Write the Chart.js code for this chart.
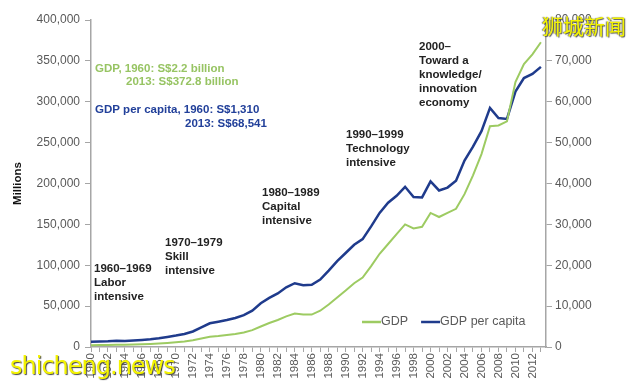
<!DOCTYPE html>
<html>
<head>
<meta charset="utf-8">
<script src="https://cdn.jsdelivr.net/npm/chart.js@4.4.1/dist/chart.umd.min.js"></script>
<style>
  html, body { margin: 0; padding: 0; background: #fff; }
  #wrap { position: relative; width: 640px; height: 384px; }
  .wm { position: absolute; color: #f4f400; white-space: nowrap; }
  #wm-cn { left: 542px; top: 10px; font: 21px "Noto Sans CJK SC", sans-serif; text-shadow: 1px 1px 1px #555, -1px 0 1px #777; }
  #wm-en { left: 10px; top: 352px; font: 24px "DejaVu Sans", sans-serif; letter-spacing: -1px; text-shadow: 1px 1px 1px #444; }
</style>
</head>
<body>
<div id="wrap">
  <canvas id="chart" width="640" height="384"></canvas>
  <div class="wm" id="wm-cn">狮城新闻</div>
  <div class="wm" id="wm-en">shicheng.news</div>
</div>
<script>
const years = [];
for (let y = 1960; y <= 2013; y++) years.push(y);

// GDP, S$ millions
const gdp = [
  2200, 2330, 2520, 2800, 2720, 2960, 3330, 3750, 4320, 5020,
  5800, 6800, 8160, 10400, 12500, 13400, 14600, 15900, 17700, 20600,
  25100, 29400, 33000, 37500, 41000, 39800, 39700, 44400, 52000, 60500,
  69000, 78000, 85000, 99000, 114000, 126000, 138000, 150000, 145000, 147000,
  164000, 159000, 164000, 169000, 187000, 210000, 236000, 270000, 271000, 276000,
  324000, 346000, 358000, 372800
];

// GDP per capita, S$
const gdpPerCapita = [
  1310, 1370, 1420, 1540, 1470, 1580, 1720, 1900, 2140, 2450,
  2800, 3200, 3800, 4800, 5800, 6200, 6600, 7100, 7800, 8900,
  10700, 12000, 13100, 14600, 15600, 15100, 15200, 16500, 18700, 21000,
  23000, 25000, 26400, 29500, 32800, 35300, 37000, 39200, 36700, 36600,
  40500, 38300, 39000, 40700, 45600, 49000, 52800, 58500, 56000, 55800,
  62500, 65800, 66800, 68541
];

const leftTicks = [0, 50000, 100000, 150000, 200000, 250000, 300000, 350000, 400000];
const rightTicks = [0, 10000, 20000, 30000, 40000, 50000, 60000, 70000, 80000];

const GREEN = '#9dcb62';
const BLUE = '#1f3b8c';
const AXIS = '#a6a6a6';
const TICK_TXT = '#595959';

// text notes drawn on top of the plot
const notes = [
  { x: 95, y: 69, color: '#97c463', lines: ['GDP, 1960: S$2.2 billion'] },
  { x: 126, y: 82, color: '#97c463', lines: ['2013: S$372.8 billion'] },
  { x: 95, y: 110, color: '#22409a', lines: ['GDP per capita, 1960: S$1,310'] },
  { x: 185, y: 124, color: '#22409a', lines: ['2013: S$68,541'] },
  { x: 94, y: 269, color: '#222', lines: ['1960–1969', 'Labor', 'intensive'] },
  { x: 165, y: 243, color: '#222', lines: ['1970–1979', 'Skill', 'intensive'] },
  { x: 262, y: 193, color: '#222', lines: ['1980–1989', 'Capital', 'intensive'] },
  { x: 346, y: 135, color: '#222', lines: ['1990–1999', 'Technology', 'intensive'] },
  { x: 419, y: 47, color: '#222', lines: ['2000–', 'Toward a', 'knowledge/', 'innovation', 'economy'] }
];

const notesPlugin = {
  id: 'notes',
  afterDatasetsDraw(chart) {
    const ctx = chart.ctx;
    ctx.save();
    ctx.font = 'bold 11.5px "Liberation Sans", Arial, sans-serif';
    ctx.textBaseline = 'middle';
    ctx.textAlign = 'left';
    notes.forEach(n => {
      ctx.fillStyle = n.color;
      n.lines.forEach((t, i) => ctx.fillText(t, n.x, n.y + i * 14));
    });

    // legend
    const ly = 322;
    ctx.font = '12.5px "Liberation Sans", Arial, sans-serif';
    ctx.fillStyle = TICK_TXT;
    ctx.lineWidth = 2.5;
    let lx = 362;
    chart.data.datasets.forEach(ds => {
      ctx.strokeStyle = ds.borderColor;
      ctx.beginPath();
      ctx.moveTo(lx, ly);
      ctx.lineTo(lx + 19, ly);
      ctx.stroke();
      ctx.fillText(ds.label, lx + 19, ly);
      lx += 19 + ctx.measureText(ds.label).width + 13;
    });
    ctx.restore();
  }
};

const fmt = v => v.toLocaleString('en-US');

new Chart(document.getElementById('chart'), {
  type: 'line',
  data: {
    datasets: [
      {
        label: 'GDP',
        data: years.map((y, i) => ({ x: y, y: gdp[i] })),
        borderColor: GREEN,
        borderWidth: 2,
        pointRadius: 0,
        tension: 0,
        yAxisID: 'y'
      },
      {
        label: 'GDP per capita',
        data: years.map((y, i) => ({ x: y, y: gdpPerCapita[i] })),
        borderColor: BLUE,
        borderWidth: 2.5,
        pointRadius: 0,
        tension: 0,
        yAxisID: 'y1'
      }
    ]
  },
  options: {
    responsive: false,
    animation: false,
    layout: { padding: { top: 20, bottom: 0, left: 11, right: 0 } },
    plugins: {
      legend: { display: false },
      tooltip: { enabled: false }
    },
    scales: {
      x: {
        type: 'linear',
        min: 1960,
        max: 2013.6,
        afterBuildTicks: s => { s.ticks = years.map(v => ({ value: v })); },
        afterFit: s => { s.height = 37; },
        border: { color: AXIS, width: 1.5 },
        grid: { drawOnChartArea: false, color: AXIS, tickLength: 5 },
        ticks: {
          autoSkip: false,
          maxRotation: 90,
          minRotation: 90,
          padding: 1,
          color: TICK_TXT,
          font: { size: 11.5, family: '"Liberation Sans", Arial, sans-serif' },
          callback: v => (v % 2 === 0 ? String(v) : '')
        }
      },
      y: {
        position: 'left',
        min: 0,
        max: 400000,
        afterBuildTicks: s => { s.ticks = leftTicks.map(v => ({ value: v })); },
        afterFit: s => { s.width = 80; },
        border: { color: AXIS, width: 1.5 },
        grid: { drawOnChartArea: false, color: AXIS, tickLength: 6 },
        title: {
          display: true,
          text: 'Millions',
          color: '#111',
          padding: { top: 0, bottom: 0 },
          font: { size: 11.5, weight: 'bold', family: '"Liberation Sans", Arial, sans-serif' }
        },
        ticks: {
          color: TICK_TXT,
          padding: 5,
          font: { size: 12, family: '"Liberation Sans", Arial, sans-serif' },
          callback: v => fmt(v)
        }
      },
      y1: {
        position: 'right',
        min: 0,
        max: 80000,
        afterBuildTicks: s => { s.ticks = rightTicks.map(v => ({ value: v })); },
        afterFit: s => { s.width = 94; },
        border: { color: AXIS, width: 1.5 },
        grid: { drawOnChartArea: false, color: AXIS, tickLength: 6 },
        ticks: {
          color: TICK_TXT,
          padding: 3,
          font: { size: 12, family: '"Liberation Sans", Arial, sans-serif' },
          callback: v => fmt(v)
        }
      }
    }
  },
  plugins: [notesPlugin]
});
</script>
</body>
</html>
